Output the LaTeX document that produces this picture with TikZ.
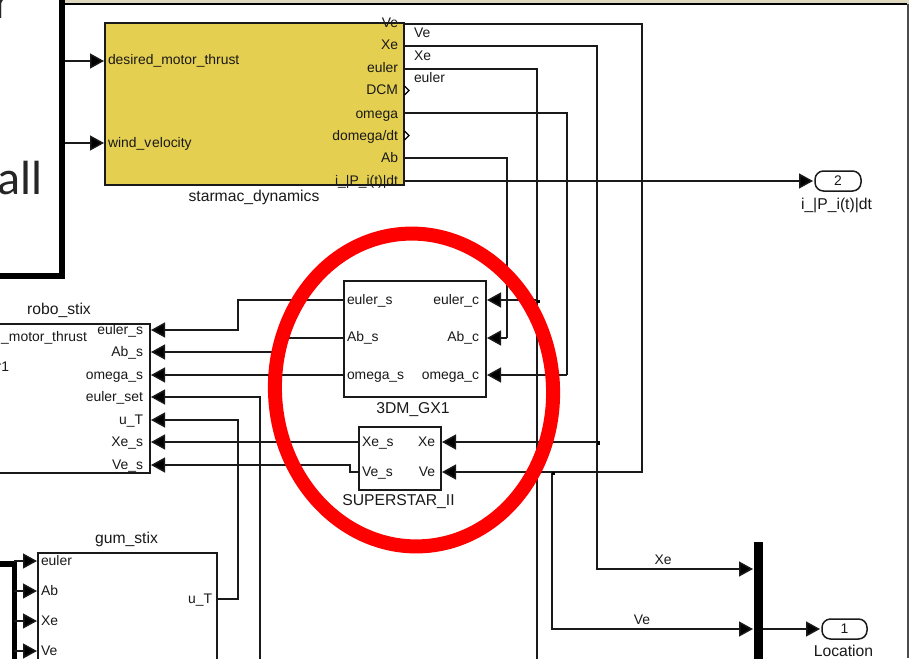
\documentclass[tikz,border=0pt]{standalone}
\usepackage{fontspec}
\setmainfont{Liberation Sans}
\newfontfamily\slidefont{Carlito}
\usetikzlibrary{arrows.meta}
\definecolor{blockyellow}{HTML}{E5CF51}
\definecolor{bandtan}{HTML}{DDD8BE}
\definecolor{ringred}{HTML}{FF0000}
\definecolor{wireblack}{HTML}{1A1A1A}
\tikzset{
  x=1pt,y=-1pt,
  every node/.style={inner sep=0pt,outer sep=0pt,font=\fontsize{13.9}{15}\selectfont,text=black!90},
  block/.style={draw=wireblack,line width=1.5pt},
  wire/.style={draw=wireblack,line width=1.5pt},
  awire/.style={wire,-{Triangle[length=14pt,width=15pt,fill=black]}},
  lblw/.style={anchor=base west},
  lble/.style={anchor=base east},
  lblc/.style={anchor=base},
  lblt/.style={anchor=base,font=\fontsize{15.7}{17}\selectfont},
  thick frame/.style={draw=black,line width=5.5pt,miter limit=10},
  chev/.style={draw=black,line width=1.2pt},
  dot/.style={fill=black,minimum size=3.6pt},
  outport/.style={draw=wireblack,line width=1.5pt,rounded corners=8.5pt},
}
\begin{document}
\begin{tikzpicture}
\useasboundingbox (0,0) rectangle (909,658);
\clip (0,0) rectangle (909,658);
% window frame
\fill[bandtan] (62,0) rectangle (909,4);
\draw[black,line width=2pt] (62,4) -- (907,4);
\draw[black!70,line width=1.4pt] (908,4) -- (908,658);
% slide overlays
\draw[thick frame] (-5,276) -- (62,276) -- (62,-5);
\draw[thick frame] (-5,564) -- (14.5,564) -- (14.5,665);
\node[name=txtr,anchor=base east,font=\slidefont\fontsize{48}{50}\selectfont,text=black!85] at (11,19) {r};
\node[name=txtall,anchor=base west,font=\slidefont\fontsize{48}{50}\selectfont,text=black!85] at (-2,194) {all};
% blocks
\path[block,fill=blockyellow] (105,23) rectangle (404,185);
\path[block,fill=white] (-10,324) rectangle (150,473);
\path[block,fill=white] (38,553) rectangle (217,670);
\path[block,fill=white] (344,281) rectangle (486,397);
\path[block,fill=white] (359,427) rectangle (441,490);
\fill[black] (754,541.5) rectangle (763,665);
\node[name=ptwo,outport,minimum width=46pt,minimum height=20pt] at (838,181) {2};
\node[name=pone,outport,minimum width=45pt,minimum height=20pt] at (844.5,629) {1};
% named port coordinates
\coordinate (dV) at (404,24);
\coordinate (dX) at (404,46);
\coordinate (dE) at (404,69);
\coordinate (dO) at (404,113);
\coordinate (dA) at (404,158);
\coordinate (dI) at (404,181);
\coordinate (dD) at (104,61);
\coordinate (dW) at (104,143);
\coordinate (fD) at (65,61);
\coordinate (fW) at (65,143);
\coordinate (gec) at (487,300);
\coordinate (gac) at (487,338);
\coordinate (goc) at (487,375);
\coordinate (ges) at (344,300);
\coordinate (gas) at (344,338);
\coordinate (gos) at (344,375);
\coordinate (sx) at (442,442);
\coordinate (sv) at (442,472);
\coordinate (sxs) at (359,442);
\coordinate (svs) at (359,472);
\coordinate (res) at (151,330);
\coordinate (ras) at (151,352);
\coordinate (ros) at (151,375);
\coordinate (rset) at (151,397);
\coordinate (rut) at (151,420);
\coordinate (rxs) at (151,442);
\coordinate (rvs) at (151,465);
\coordinate (gut) at (217,599);
\coordinate (gE) at (37,561);
\coordinate (gA) at (37,591);
\coordinate (gX) at (37,621);
\coordinate (gV) at (37,651);
\coordinate (fE) at (14,561);
\coordinate (fA) at (14,591);
\coordinate (fX) at (14,621);
\coordinate (fV) at (14,651);
\coordinate (mx) at (753,569);
\coordinate (mv) at (753,629);
\coordinate (mo) at (763,629);
\coordinate (jE) at (537,300);
\coordinate (jX) at (597,442);
\coordinate (jV) at (552,472);
\coordinate (bE) at (537,665);
\coordinate (bS) at (260,665);
% wires
\draw[awire] (fD) -- (dD);
\draw[awire] (fW) -- (dW);
\draw[wire] (dV) -| (642,472) -- (jV);
\draw[wire] (dX) -| (jX);
\draw[wire] (dE) -| (jE);
\draw[wire] (jE) -- (bE);
\draw[wire] (dO) -| (567,375);
\draw[wire] (dA) -| (507,338);
\draw[awire,shorten >=2pt] (dI) -- (ptwo.west);
\draw[awire] (jE) -- (gec);
\draw[awire] (507,338) -- (gac);
\draw[awire] (567,375) -- (goc);
\draw[awire] (jX) -- (sx);
\draw[awire] (jV) -- (sv);
\draw[awire] (jX) |- (mx);
\draw[awire] (jV) |- (mv);
\draw[awire,shorten >=2pt] (mo) -- (pone.west);
\draw[awire] (ges) -- (238,300) -- (238,330) -- (res);
\draw[awire] (gas) -- (281,338) -- (281,352) -- (ras);
\draw[awire] (gos) -- (ros);
\draw[awire] (sxs) -- (rxs);
\draw[awire] (svs) -- (350,472) -- (350,465) -- (rvs);
\draw[awire] (bS) |- (rset);
\draw[awire] (gut) -| (238,420) -- (rut);
\draw[awire] (fE) -- (gE);
\draw[awire] (fA) -- (gA);
\draw[awire] (fX) -- (gX);
\draw[awire] (fV) -- (gV);
\node[dot,name=je] at (538.5,301.5) {};
\node[dot,name=jx] at (598.5,443) {};
\node[dot,name=jv] at (553.5,473.5) {};
% chevrons
\draw[chev] (404.5,86) -- (409,90.5) -- (404.5,95);
\draw[chev] (404.5,131) -- (409,135.5) -- (404.5,140);
% block labels
\node[lblw,name=l1] at (108,65) {desired\_motor\_thrust};
\node[lblw,name=l2] at (108,147) {wind\_v\kern1pt elocity};
\node[lble,name=l3] at (398,28) {Ve};
\node[lble,name=l4] at (398,50) {Xe};
\node[lble,name=l5] at (398,73) {euler};
\node[lble,name=l6] at (398,95) {DCM};
\node[lble,name=l7] at (398,118) {omega};
\node[lble,name=l8] at (398,140) {domega/dt};
\node[lble,name=l9] at (398,162) {Ab};
\node[lble,name=l10] at (398,185) {i\_|P\_i(t)|dt};
\node[lblt,name=l11] at (254,201) {starmac\_dynamics};
\node[lblw,name=w1] at (414,38) {Ve};
\node[lblw,name=w2] at (414,61) {Xe};
\node[lblw,name=w3] at (414,83) {euler};
\node[lblc,name=w4] at (663,564) {Xe};
\node[lblc,name=w5] at (642,624) {Ve};
\node[lblt,name=p2] at (836.5,209) {i\_|P\_i(t)|dt};
\node[lblt,name=p1] at (843.5,656) {Location};
\node[lblt,name=t1] at (59,314) {robo\_stix};
\node[lble,name=r1] at (143,334) {euler\_s};
\node[lble,name=r2] at (143,356) {Ab\_s};
\node[lble,name=r3] at (143,379) {omega\_s};
\node[lble,name=r4] at (143,401) {euler\_set};
\node[lble,name=r5] at (143,424) {u\_T};
\node[lble,name=r6] at (143,446) {Xe\_s};
\node[lble,name=r7] at (143,469) {Ve\_s};
\node[lble,name=r8] at (87,341) {\_motor\_thrust};
\node[lble,name=r9] at (9,371) {r1};
\node[lblt,name=t2] at (126.5,543) {gum\_stix};
\node[lblw,name=g1] at (41,565) {euler};
\node[lblw,name=g2] at (41,595) {Ab};
\node[lblw,name=g3] at (41,625) {Xe};
\node[lblw,name=g4] at (41,655) {Ve};
\node[lble,name=g5] at (212,603) {u\_T};
\node[lblw,name=d1] at (347,304) {euler\_s};
\node[lblw,name=d2] at (347,341) {Ab\_s};
\node[lblw,name=d3] at (347,379) {omega\_s};
\node[lble,name=d4] at (479,304) {euler\_c};
\node[lble,name=d5] at (479,341) {Ab\_c};
\node[lble,name=d6] at (479,379) {omega\_c};
\node[lblt,name=d7] at (413,413) {3DM\_GX1};
\node[lblw,name=s1] at (362,446) {Xe\_s};
\node[lblw,name=s2] at (362,476) {Ve\_s};
\node[lble,name=s3] at (435,446) {Xe};
\node[lble,name=s4] at (435,476) {Ve};
\node[lblt,name=s5] at (398.5,505) {SUPERSTAR\_II};
% red ring
\draw[ringred,line width=14pt,rotate around={4:(414,390)}] (414,390) ellipse [x radius=139,y radius=156.5];
\end{tikzpicture}
\end{document}
